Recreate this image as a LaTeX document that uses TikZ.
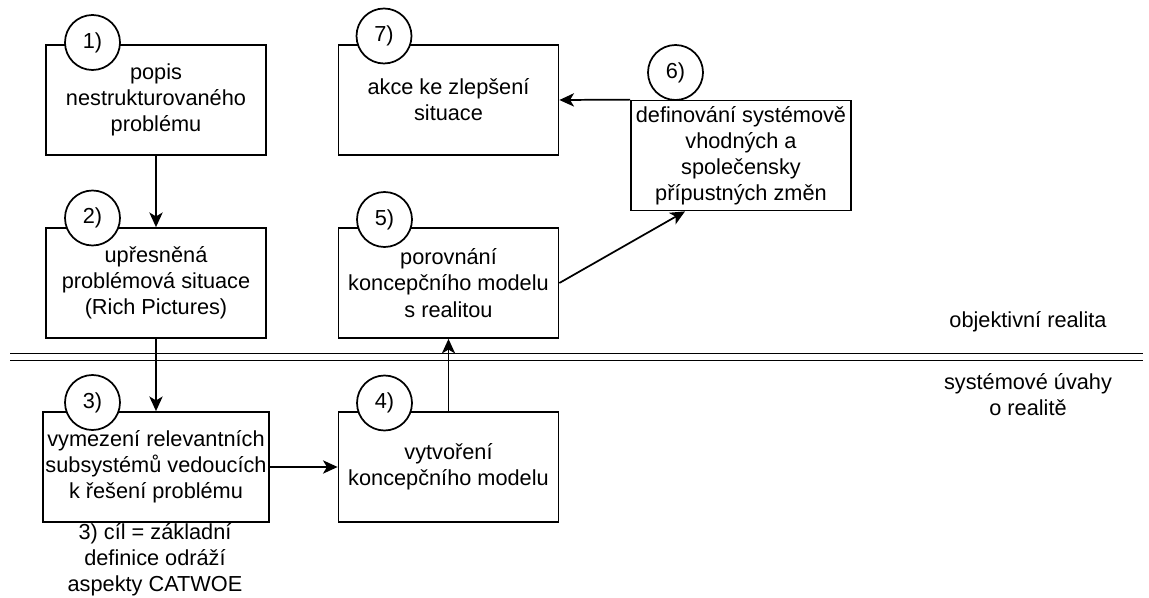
\documentclass[tikz,border=0pt]{standalone}
\usepackage{fontspec}
\setmainfont{Liberation Sans}
\usetikzlibrary{arrows.meta,calc}
\begin{document}
\begin{tikzpicture}[x=0.75pt,y=-0.75pt,
  every node/.style={font=\fontsize{16.3}{19.6}\selectfont},
  stepbox/.style={draw, line width=1.3pt, minimum width=165pt, minimum height=82.5pt,
    inner sep=2pt, align=center, fill=white},
  stepnum/.style={draw, circle, line width=1.3pt, fill=white, minimum size=41.25pt, inner sep=0pt},
  flow/.style={line width=1.3pt, -{Stealth[length=11pt,width=10pt,inset=3pt]}},
  divider/.style={line width=1.3pt},
  plain/.style={align=center, inner sep=0pt}]

% page area
\useasboundingbox[fill=white] (0,0) rectangle (1149,598);

% level divider between reality and systems thinking
\draw[divider] (10,353.5) -- (1143,353.5);
\draw[divider] (10,360.5) -- (1143,360.5);
\node[plain] (real) at (1028,322) {objektivní realita};
\node[plain] (sys) at (1028,395) {systémové úvahy\\o realitě};

% process steps
\node[stepbox] (b1) at (156,100) {popis\\nestrukturovaného\\problému};
\node[stepbox] (b2) at (156,283) {upřesněná\\problémová situace\\(Rich Pictures)};
\node[stepbox] (b3) at (156,467) {vymezení relevantních\\subsystémů vedoucích\\k řešení problému};
\node[stepbox] (b4) at (448.5,467) {vytvoření\\koncepčního modelu};
\node[stepbox] (b5) at (448.5,283) {porovnání\\koncepčního modelu\\s realitou};
\node[stepbox] (b6) at (741,155.5) {definování systémově\\vhodných a\\společensky\\přípustných změn};
\node[stepbox] (b7) at (448.5,100) {akce ke zlepšení\\situace};

% step numbers
\node[stepnum] (c1) at (92.5,42.5) {1)};
\node[stepnum] (c2) at (92.5,218) {2)};
\node[stepnum] (c3) at (92.5,402.5) {3)};
\node[stepnum] (c4) at (384.5,403) {4)};
\node[stepnum] (c5) at (384.5,219.5) {5)};
\node[stepnum] (c6) at (675.5,72.5) {6)};
\node[stepnum] (c7) at (384,36) {7)};

% note under step 3
\node[plain] (goal) at (155,560) {3) cíl = základní\\definice odráží\\aspekty CATWOE};

% flow between steps
\coordinate (b6in) at ([xshift=-42pt]b6.south);
\draw[flow] (b1.south) -- (b2.north);
\draw[flow] (b2.south) -- (b3.north);
\draw[flow] (b3.east) -- (b4.west);
\draw[flow] (b4.north) -- (b5.south);
\draw[flow] (b5.east) -- (b6in);
\draw[flow] (b6.north west) -- (b7.east);
\end{tikzpicture}
\end{document}
